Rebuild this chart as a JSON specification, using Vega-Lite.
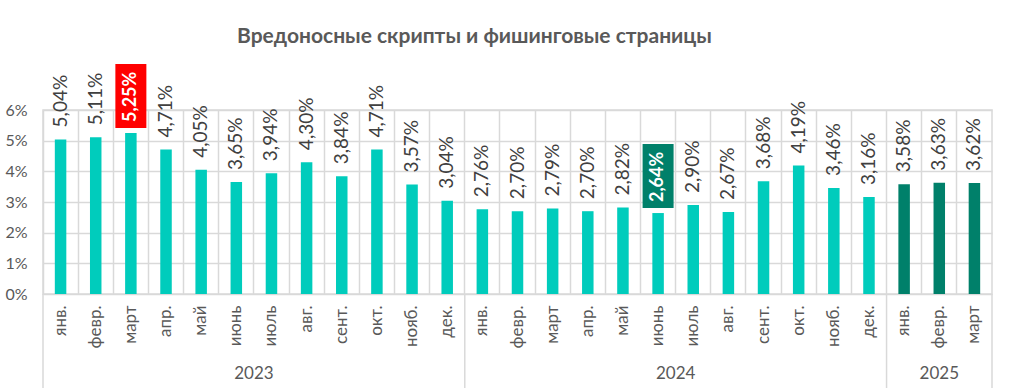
{
  "$schema": "https://vega.github.io/schema/vega-lite/v6.json",
  "width": 949,
  "height": 184,
  "autosize": {"type": "none"},
  "padding": {"left": 43, "top": 110, "right": 32, "bottom": 94},
  "background": "white",
  "config": {
    "locale": {"number": {"decimal": ",", "thousands": " ", "grouping": [3], "currency": ["", " ₽"]}},
    "font": "Lato",
    "view": {"stroke": "#d9d9d9", "strokeWidth": 1.5},
    "axisY": {"tickCount": 6, "format": ".0%", "title": null, "labelFont": "Lato", "labelFontSize": 16, "labelColor": "#595959", "labelPadding": 16, "ticks": false, "domain": false, "grid": true, "gridColor": "#d9d9d9", "gridWidth": 1.5},
    "axisX": {"title": null, "labelAngle": -90, "labelFont": "Lato", "labelFontSize": 17, "labelColor": "#595959", "labelPadding": 11, "ticks": false, "domain": false, "grid": true, "bandPosition": 0, "gridColor": "#d9d9d9", "gridWidth": 1.5}
  },
  "title": {
    "text": "Вредоносные скрипты и фишинговые страницы",
    "font": "Lato",
    "fontSize": 21,
    "fontWeight": "bold",
    "color": "#595959",
    "anchor": "middle",
    "dx": -43,
    "offset": 17
  },
  "datasets": {
    "m": [
      {"key": "2023|янв.", "year": "2023", "value": 0.0504},
      {"key": "2023|февр.", "year": "2023", "value": 0.0511},
      {"key": "2023|март", "year": "2023", "value": 0.0525, "hl": "max"},
      {"key": "2023|апр.", "year": "2023", "value": 0.0471},
      {"key": "2023|май", "year": "2023", "value": 0.0405},
      {"key": "2023|июнь", "year": "2023", "value": 0.0365},
      {"key": "2023|июль", "year": "2023", "value": 0.0394},
      {"key": "2023|авг.", "year": "2023", "value": 0.0430},
      {"key": "2023|сент.", "year": "2023", "value": 0.0384},
      {"key": "2023|окт.", "year": "2023", "value": 0.0471},
      {"key": "2023|нояб.", "year": "2023", "value": 0.0357},
      {"key": "2023|дек.", "year": "2023", "value": 0.0304},
      {"key": "2024|янв.", "year": "2024", "value": 0.0276},
      {"key": "2024|февр.", "year": "2024", "value": 0.0270},
      {"key": "2024|март", "year": "2024", "value": 0.0279},
      {"key": "2024|апр.", "year": "2024", "value": 0.0270},
      {"key": "2024|май", "year": "2024", "value": 0.0282},
      {"key": "2024|июнь", "year": "2024", "value": 0.0264, "hl": "min"},
      {"key": "2024|июль", "year": "2024", "value": 0.0290},
      {"key": "2024|авг.", "year": "2024", "value": 0.0267},
      {"key": "2024|сент.", "year": "2024", "value": 0.0368},
      {"key": "2024|окт.", "year": "2024", "value": 0.0419},
      {"key": "2024|нояб.", "year": "2024", "value": 0.0346},
      {"key": "2024|дек.", "year": "2024", "value": 0.0316},
      {"key": "2025|янв.", "year": "2025", "value": 0.0358},
      {"key": "2025|февр.", "year": "2025", "value": 0.0363},
      {"key": "2025|март", "year": "2025", "value": 0.0362}
    ],
    "yrs": [
      {"year": "2023", "first": "2023|янв.", "last": "2023|дек.", "mid": "2023|июль"},
      {"year": "2024", "first": "2024|янв.", "last": "2024|дек.", "mid": "2024|июль"},
      {"year": "2025", "first": "2025|янв.", "last": "2025|март", "mid": "2025|февр."}
    ]
  },
  "layer": [
    {
      "data": {"name": "m"},
      "mark": {"type": "bar", "width": 11.5},
      "encoding": {
        "x": {
          "field": "key", "type": "ordinal", "sort": null,
          "scale": {
            "paddingInner": 0, "paddingOuter": 0,
            "domain": ["2023|янв.", "2023|февр.", "2023|март", "2023|апр.", "2023|май", "2023|июнь", "2023|июль", "2023|авг.", "2023|сент.", "2023|окт.", "2023|нояб.", "2023|дек.", "2024|янв.", "2024|февр.", "2024|март", "2024|апр.", "2024|май", "2024|июнь", "2024|июль", "2024|авг.", "2024|сент.", "2024|окт.", "2024|нояб.", "2024|дек.", "2025|янв.", "2025|февр.", "2025|март"]
          },
          "axis": {"labelExpr": "split(datum.label, '|')[1]"}
        },
        "y": {
          "field": "value", "type": "quantitative",
          "scale": {"domain": [0, 0.06], "nice": false}
        },
        "color": {
          "condition": {"test": "datum.year == '2025'", "value": "#00806A"},
          "value": "#00CCBC"
        }
      }
    },
    {
      "data": {"name": "m"},
      "transform": [{"filter": "isValid(datum.hl)"}],
      "mark": {"type": "bar", "width": 31, "yOffset": -69, "y2Offset": -5},
      "encoding": {
        "x": {"field": "key", "type": "ordinal", "sort": null},
        "y": {"field": "value", "type": "quantitative"},
        "y2": {"field": "value"},
        "color": {
          "field": "hl", "type": "nominal", "legend": null,
          "scale": {"domain": ["max", "min"], "range": ["#FF0000", "#00806A"]}
        }
      }
    },
    {
      "data": {"name": "m"},
      "transform": [{"filter": "!isValid(datum.hl)"}],
      "mark": {"type": "text", "angle": 270, "align": "left", "baseline": "middle", "dx": 12, "font": "Lato", "fontSize": 19, "color": "#404040"},
      "encoding": {
        "x": {"field": "key", "type": "ordinal", "sort": null},
        "y": {"field": "value", "type": "quantitative"},
        "text": {"field": "value", "type": "quantitative", "format": ".2%"}
      }
    },
    {
      "data": {"name": "m"},
      "transform": [{"filter": "isValid(datum.hl)"}],
      "mark": {"type": "text", "angle": 270, "align": "left", "baseline": "middle", "dx": 11, "font": "Lato", "fontSize": 18, "fontWeight": "bold", "color": "white"},
      "encoding": {
        "x": {"field": "key", "type": "ordinal", "sort": null},
        "y": {"field": "value", "type": "quantitative"},
        "text": {"field": "value", "type": "quantitative", "format": ".2%"}
      }
    },
    {
      "data": {"name": "yrs"},
      "mark": {"type": "rule", "color": "#d9d9d9", "strokeWidth": 1.5},
      "encoding": {
        "x": {"field": "first", "type": "ordinal", "bandPosition": 0},
        "y": {"datum": 0},
        "y2": {"datum": -0.0315}
      }
    },
    {
      "data": {"name": "yrs"},
      "transform": [{"filter": "datum.year == '2025'"}],
      "mark": {"type": "rule", "color": "#d9d9d9", "strokeWidth": 1.5},
      "encoding": {
        "x": {"field": "last", "type": "ordinal", "bandPosition": 1},
        "y": {"datum": 0},
        "y2": {"datum": -0.0315}
      }
    },
    {
      "data": {"name": "yrs"},
      "transform": [{"filter": "datum.year != '2025'"}],
      "mark": {"type": "text", "font": "Lato", "fontSize": 17, "color": "#595959", "baseline": "middle"},
      "encoding": {
        "x": {"field": "mid", "type": "ordinal", "bandPosition": 0},
        "y": {"datum": -0.0261},
        "text": {"field": "year"}
      }
    },
    {
      "data": {"name": "yrs"},
      "transform": [{"filter": "datum.year == '2025'"}],
      "mark": {"type": "text", "font": "Lato", "fontSize": 17, "color": "#595959", "baseline": "middle"},
      "encoding": {
        "x": {"field": "mid", "type": "ordinal", "bandPosition": 0.5},
        "y": {"datum": -0.0261},
        "text": {"field": "year"}
      }
    }
  ]
}
